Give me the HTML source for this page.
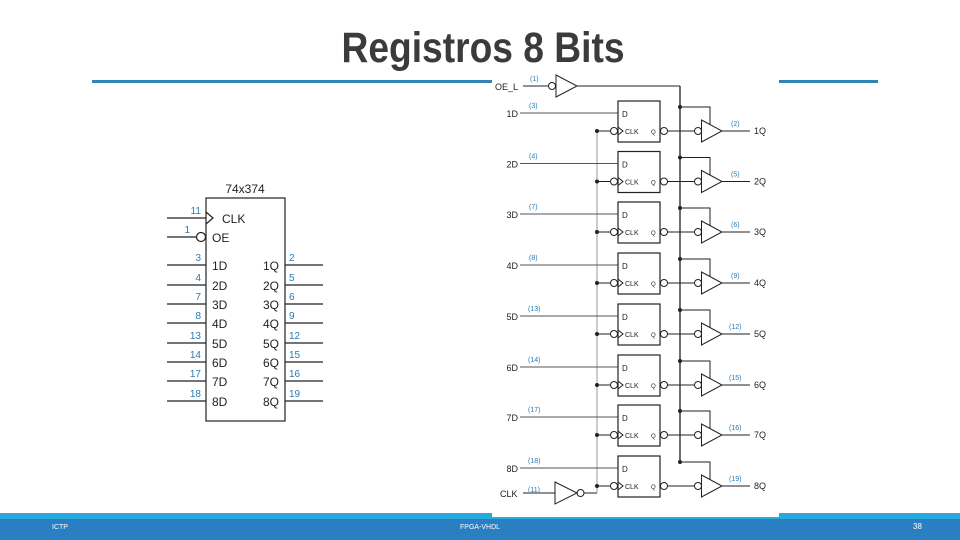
<!DOCTYPE html>
<html><head><meta charset="utf-8"><style>
body{margin:0;width:960px;height:540px;overflow:hidden;background:#fff;font-family:"Liberation Sans",sans-serif}
svg{display:block}
</style></head><body>
<svg width="960" height="540" viewBox="0 0 960 540" xmlns="http://www.w3.org/2000/svg" font-family="Liberation Sans, sans-serif">
<text x="483" y="62" font-size="43" font-weight="bold" fill="#3b3b3b" text-anchor="middle" textLength="283" lengthAdjust="spacingAndGlyphs">Registros 8 Bits</text>
<rect x="92" y="80" width="786" height="3" fill="#2f86b3"/>
<rect x="0" y="513" width="960" height="7" fill="#29a9e0"/>
<rect x="0" y="519" width="960" height="21" fill="#2a7fc2"/>
<rect x="492" y="72" width="287" height="445" fill="#fff"/>
<text x="52" y="529" font-size="7" fill="#fff">ICTP</text>
<text x="460" y="529" font-size="7" fill="#fff">FPGA-VHDL</text>
<text x="913" y="529" font-size="8" fill="#fff">38</text>

<g stroke="#222" stroke-width="1.2" fill="none">
<rect x="206" y="198" width="79" height="223"/>
<line x1="167" y1="218" x2="206" y2="218"/>
<path d="M206 212 L213 218 L206 224"/>
<line x1="167" y1="237" x2="196" y2="237"/>
<circle cx="201" cy="237" r="4.5"/>
<line x1="167" y1="265" x2="206" y2="265"/><line x1="167" y1="285" x2="206" y2="285"/>
<line x1="167" y1="304" x2="206" y2="304"/><line x1="167" y1="323" x2="206" y2="323"/>
<line x1="167" y1="343" x2="206" y2="343"/><line x1="167" y1="362" x2="206" y2="362"/>
<line x1="167" y1="381" x2="206" y2="381"/><line x1="167" y1="401" x2="206" y2="401"/>
<line x1="285" y1="265" x2="323" y2="265"/><line x1="285" y1="285" x2="323" y2="285"/>
<line x1="285" y1="304" x2="323" y2="304"/><line x1="285" y1="323" x2="323" y2="323"/>
<line x1="285" y1="343" x2="323" y2="343"/><line x1="285" y1="362" x2="323" y2="362"/>
<line x1="285" y1="381" x2="323" y2="381"/><line x1="285" y1="401" x2="323" y2="401"/>
</g>
<g font-size="12" fill="#222">
<text x="245" y="193" text-anchor="middle">74x374</text>
<text x="222" y="223">CLK</text><text x="212" y="242">OE</text>
<text x="212" y="270">1D</text><text x="212" y="290">2D</text><text x="212" y="309">3D</text><text x="212" y="328">4D</text>
<text x="212" y="348">5D</text><text x="212" y="367">6D</text><text x="212" y="386">7D</text><text x="212" y="406">8D</text>
<text x="279" y="270" text-anchor="end">1Q</text><text x="279" y="290" text-anchor="end">2Q</text><text x="279" y="309" text-anchor="end">3Q</text><text x="279" y="328" text-anchor="end">4Q</text>
<text x="279" y="348" text-anchor="end">5Q</text><text x="279" y="367" text-anchor="end">6Q</text><text x="279" y="386" text-anchor="end">7Q</text><text x="279" y="406" text-anchor="end">8Q</text>
</g>
<g font-size="10" fill="#2a7ab0">
<text x="201" y="214" text-anchor="end">11</text><text x="190" y="233" text-anchor="end">1</text>
<text x="201" y="261" text-anchor="end">3</text><text x="201" y="281" text-anchor="end">4</text><text x="201" y="300" text-anchor="end">7</text><text x="201" y="319" text-anchor="end">8</text>
<text x="201" y="339" text-anchor="end">13</text><text x="201" y="358" text-anchor="end">14</text><text x="201" y="377" text-anchor="end">17</text><text x="201" y="397" text-anchor="end">18</text>
<text x="289" y="261">2</text><text x="289" y="281">5</text><text x="289" y="300">6</text><text x="289" y="319">9</text>
<text x="289" y="339">12</text><text x="289" y="358">15</text><text x="289" y="377">16</text><text x="289" y="397">19</text>
</g>

<g stroke="#222" stroke-width="1" fill="none">
<line x1="523" y1="86" x2="548" y2="86"/>
<circle cx="552" cy="86" r="3.5"/>
<path d="M556 75 L577 86 L556 97 Z"/>
<line x1="577" y1="86" x2="680" y2="86"/>
<line x1="680" y1="86" x2="680" y2="462" stroke-width="1.3"/>
<line x1="523" y1="493" x2="555" y2="493"/>
<path d="M555 482 L577 493 L555 504 Z"/>
<circle cx="580.5" cy="493" r="3.5"/>
<line x1="584" y1="493" x2="597" y2="493"/>
<line x1="597" y1="130" x2="597" y2="493" stroke="#999"/>
</g>
<g font-size="9" fill="#222"><text x="495" y="90">OE_L</text><text x="500" y="497">CLK</text></g>
<g font-size="7" fill="#2a7ab0"><text x="530" y="81">(1)</text><text x="528" y="492">(11)</text></g>

<defs>
<g id="st" stroke="#222" stroke-width="1" fill="none">
<line x1="520" y1="113" x2="618" y2="113" stroke="#555"/>
<rect x="618" y="101" width="42" height="41" stroke-width="1.2"/>
<path d="M618 127 L623 131 L618 135"/>
<line x1="597" y1="131" x2="610" y2="131"/>
<circle cx="597" cy="131" r="1.5" fill="#222"/>
<circle cx="614" cy="131" r="3.5"/>
<circle cx="664" cy="131" r="3.5"/>
<line x1="667.5" y1="131" x2="694" y2="131"/>
<circle cx="698" cy="131" r="3.5"/>
<path d="M701.5 120 L722 131 L701.5 142 Z"/>
<circle cx="680" cy="107" r="1.5" fill="#222"/>
<path d="M680 107 L710 107 L710 125"/>
<line x1="722" y1="131" x2="750" y2="131"/>
<text x="622" y="117" font-size="8" fill="#222" stroke="none">D</text>
<text x="625" y="134" font-size="7" fill="#222" stroke="none">CLK</text>
<text x="651" y="134" font-size="6" fill="#222" stroke="none">Q</text>
</g>
</defs>
<use href="#st" transform="translate(0,0)"/>
<use href="#st" transform="translate(0,50.5)"/>
<use href="#st" transform="translate(0,101)"/>
<use href="#st" transform="translate(0,152)"/>
<use href="#st" transform="translate(0,203)"/>
<use href="#st" transform="translate(0,254)"/>
<use href="#st" transform="translate(0,304)"/>
<use href="#st" transform="translate(0,355)"/>
<g font-size="9" fill="#222" text-anchor="end">
<text x="518" y="117">1D</text><text x="518" y="167.5">2D</text><text x="518" y="218">3D</text><text x="518" y="269">4D</text>
<text x="518" y="320">5D</text><text x="518" y="371">6D</text><text x="518" y="421">7D</text><text x="518" y="472">8D</text>
</g>
<g font-size="9" fill="#222">
<text x="754" y="134">1Q</text><text x="754" y="184.5">2Q</text><text x="754" y="235">3Q</text><text x="754" y="286">4Q</text>
<text x="754" y="337">5Q</text><text x="754" y="388">6Q</text><text x="754" y="438">7Q</text><text x="754" y="489">8Q</text>
</g>
<g font-size="7" fill="#2a7ab0">
<text x="529" y="108">(3)</text><text x="529" y="158.5">(4)</text><text x="529" y="209">(7)</text><text x="529" y="260">(8)</text>
<text x="528" y="311">(13)</text><text x="528" y="362">(14)</text><text x="528" y="412">(17)</text><text x="528" y="463">(18)</text>
<text x="731" y="126">(2)</text><text x="731" y="176.5">(5)</text><text x="731" y="227">(6)</text><text x="731" y="278">(9)</text>
<text x="729" y="329">(12)</text><text x="729" y="380">(15)</text><text x="729" y="430">(16)</text><text x="729" y="481">(19)</text>
</g>
</svg>
</body></html>
